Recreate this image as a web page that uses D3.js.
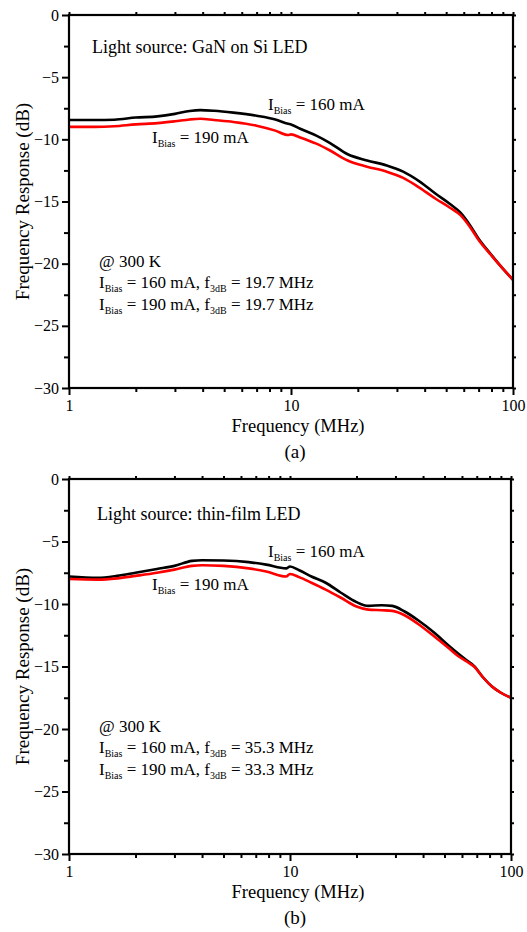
<!DOCTYPE html>
<html>
<head>
<meta charset="utf-8">
<script src="https://cdn.jsdelivr.net/npm/d3@7"></script>
<style>
  body { margin: 0; background: #fff; }
  svg { display: block; }
  text { font-family: "Liberation Serif", "Times New Roman", serif; fill: #000; }
</style>
</head>
<body>
<div id="okvir"></div>
<script>
// frekvencije (MHz) i odziv (dB) ocitani sa slike
const freqA = [1, 1.3, 1.6, 2, 2.5, 3, 3.5, 3.9, 4.5, 5.5, 7, 8.5, 9.7, 10, 11, 13, 15, 18, 22, 27, 32, 38, 45, 52, 58, 64, 70, 80, 90, 100]
const a160 = [-8.45, -8.45, -8.42, -8.25, -8.15, -7.95, -7.72, -7.65, -7.7, -7.85, -8.1, -8.4, -8.75, -8.8, -9.15, -9.7, -10.3, -11.2, -11.7, -12.1, -12.6, -13.4, -14.4, -15.2, -15.9, -16.9, -18.0, -19.3, -20.4, -21.3]
const a190 = [-9.0, -9.0, -8.95, -8.8, -8.7, -8.55, -8.4, -8.35, -8.45, -8.6, -8.9, -9.3, -9.65, -9.6, -9.85, -10.35, -10.9, -11.7, -12.2, -12.6, -13.1, -13.9, -14.8, -15.5, -16.1, -17.05, -18.1, -19.35, -20.4, -21.3]

const freqB = [1, 1.35, 1.65, 2, 2.5, 3, 3.6, 4, 5, 6.5, 7.8, 9.6, 10, 11, 12.5, 14.5, 17, 20, 22.6, 26, 29, 33, 38, 45, 52, 58, 63, 68, 75, 82, 90, 100]
const b160 = [-7.8, -7.9, -7.75, -7.5, -7.2, -6.95, -6.55, -6.5, -6.52, -6.65, -6.85, -7.15, -7.0, -7.3, -7.8, -8.3, -9.1, -9.85, -10.15, -10.1, -10.15, -10.6, -11.3, -12.3, -13.3, -14.0, -14.5, -14.95, -15.9, -16.6, -17.1, -17.5]
const b190 = [-8.0, -8.05, -7.95, -7.75, -7.5, -7.25, -6.95, -6.9, -6.95, -7.15, -7.4, -7.8, -7.6, -7.85, -8.3, -8.85, -9.5, -10.2, -10.45, -10.5, -10.55, -10.9, -11.6, -12.6, -13.5, -14.2, -14.6, -15.0, -15.9, -16.6, -17.1, -17.5]

const yTicks = [0, -5, -10, -15, -20, -25, -30]
const yMinor = [-2.5, -7.5, -12.5, -17.5, -22.5, -27.5]
const xTicks = [1, 10, 100]
const xMinor = [2, 3, 4, 5, 6, 7, 8, 9, 20, 30, 40, 50, 60, 70, 80, 90]

const panels = [
  {
    top: 15, bottom: 388, left: 69, right: 513,
    freq: freqA, s160: a160, s190: a190,
    source: "Light source: GaN on Si LED",
    f160: "19.7", f190: "19.7", oznaka: "(a)",
    lbl160: [268, 110], lbl190: [152, 143], srcPos: [92, 53], notePos: [99, 267]
  },
  {
    top: 479, bottom: 854, left: 69, right: 511,
    freq: freqB, s160: b160, s190: b190,
    source: "Light source: thin-film LED",
    f160: "35.3", f190: "33.3", oznaka: "(b)",
    lbl160: [268, 557], lbl190: [152, 590], srcPos: [97, 520], notePos: [99, 732]
  },
]

const svg = d3.select("#okvir")
  .append("svg")
    .attr("width", 527)
    .attr("height", 932)

function iBias(sel, x, y, rest) {
  const t = sel.append("text")
      .attr("x", x)
      .attr("y", y)
      .style("font-size", "17px")
  t.append("tspan").text("I")
  t.append("tspan").attr("dy", 4).style("font-size", "10px").text("Bias")
  t.append("tspan").attr("dy", -4).text(rest)
  return t
}

function crtajPanel(p) {
  const x = d3.scaleLog().domain([1, 100]).range([p.left, p.right])
  const y = d3.scaleLinear().domain([-30, 0]).range([p.bottom, p.top])
  const g = svg.append("g")

  // krivulje
  const linija = (vals) => d3.line()
    .x((d, i) => x(p.freq[i]))
    .y(d => y(d))
    .curve(d3.curveMonotoneX)(vals)

  g.append("path")
      .attr("d", linija(p.s160))
      .attr("fill", "none")
      .attr("stroke", "#000")
      .attr("stroke-width", 2.6)
  g.append("path")
      .attr("d", linija(p.s190))
      .attr("fill", "none")
      .attr("stroke", "#ff0000")
      .attr("stroke-width", 2.6)

  // osi
  const yOs = g.append("g")
      .attr("transform", `translate(${p.left},0)`)
      .call(d3.axisLeft(y).tickValues(yTicks).tickSize(7).tickPadding(3).tickFormat(d3.format("d")))
  yOs.append("g").call(d3.axisLeft(y).tickValues(yMinor).tickSize(5).tickFormat(""))

  const xOs = g.append("g")
      .attr("transform", `translate(0,${p.bottom})`)
      .call(d3.axisBottom(x).tickValues(xTicks).tickSize(7).tickPadding(5).tickFormat(d3.format("d")))
  xOs.append("g").call(d3.axisBottom(x).tickValues(xMinor).tickSize(4).tickFormat(""))

  g.append("g")
      .attr("transform", `translate(0,${p.top})`)
      .call(d3.axisTop(x).tickValues(xTicks.concat(xMinor)).tickSize(3).tickFormat(""))
  g.append("g")
      .attr("transform", `translate(${p.right},0)`)
      .call(d3.axisRight(y).tickValues(yTicks.concat(yMinor)).tickSize(3).tickFormat(""))

  g.selectAll(".domain").remove()
  g.selectAll(".tick line").attr("stroke", "#000").attr("stroke-width", 2)
  g.selectAll(".tick text")
      .style("font-family", "'Liberation Serif', serif")
      .style("font-size", "16px")
      .attr("fill", "#000")

  g.append("rect")
      .attr("x", p.left)
      .attr("y", p.top)
      .attr("width", p.right - p.left)
      .attr("height", p.bottom - p.top)
      .attr("fill", "none")
      .attr("stroke", "#000")
      .attr("stroke-width", 2.2)

  // naslovi osi
  g.append("text")
      .attr("transform", `translate(29,${(p.top + p.bottom) / 2}) rotate(-90)`)
      .attr("text-anchor", "middle")
      .style("font-size", "19px")
      .text("Frequency Response (dB)")
  g.append("text")
      .attr("x", 298)
      .attr("y", p.bottom + 44)
      .attr("text-anchor", "middle")
      .style("font-size", "18.5px")
      .text("Frequency (MHz)")
  g.append("text")
      .attr("x", 295)
      .attr("y", p.bottom + 70)
      .attr("text-anchor", "middle")
      .style("font-size", "19px")
      .text(p.oznaka)

  // oznake
  g.append("text")
      .attr("x", p.srcPos[0])
      .attr("y", p.srcPos[1])
      .style("font-size", "18px")
      .text(p.source)
  iBias(g, p.lbl160[0], p.lbl160[1], " = 160 mA")
  iBias(g, p.lbl190[0], p.lbl190[1], " = 190 mA")

  g.append("text")
      .attr("x", p.notePos[0])
      .attr("y", p.notePos[1])
      .style("font-size", "17px")
      .text("@ 300 K")
  const redovi = [["160", p.f160], ["190", p.f190]]
  redovi.forEach((r, i) => {
    const t = iBias(g, p.notePos[0], p.notePos[1] + 21 + i * 22, ` = ${r[0]} mA, f`)
    t.append("tspan").attr("dy", 4).style("font-size", "10px").text("3dB")
    t.append("tspan").attr("dy", -4).text(` = ${r[1]} MHz`)
  })
}

panels.forEach(crtajPanel)
</script>
</body>
</html>
